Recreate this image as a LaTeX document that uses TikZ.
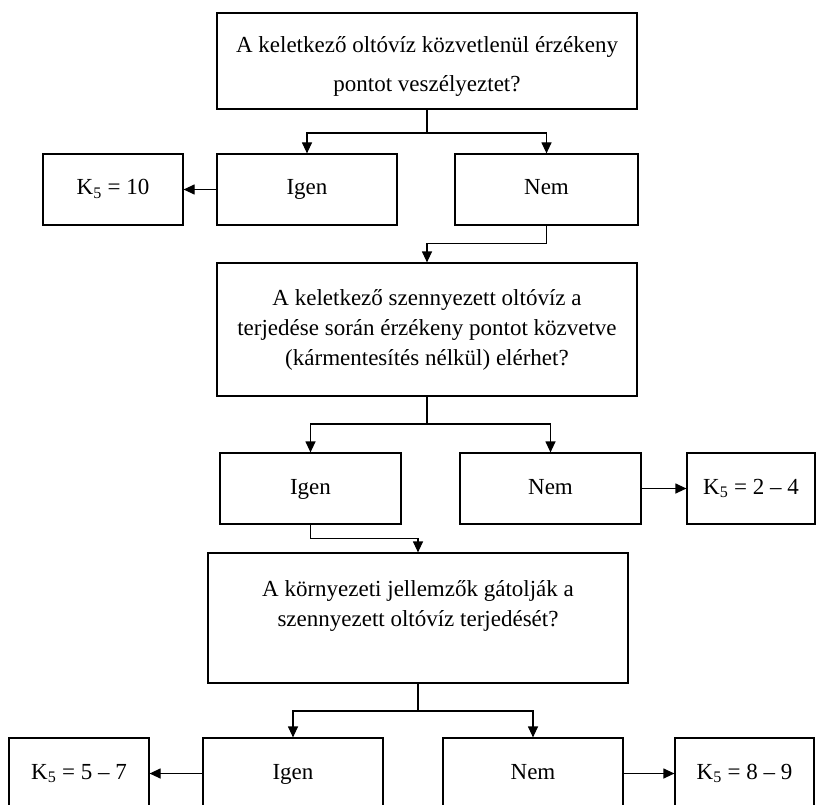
\documentclass[tikz,border=0pt]{standalone}
\usepackage{fontspec}
\setmainfont{Liberation Serif}
\usetikzlibrary{arrows.meta}
\begin{document}
\begin{tikzpicture}[x=1pt,y=-1pt,
  box/.style={draw, line width=1.2pt, rectangle, inner sep=0pt, align=center,
    font=\fontsize{23}{30}\selectfont},
  qtext/.style={inner sep=0pt, align=center, font=\fontsize{23}{39}\selectfont},
  small/.style={box, minimum width=#1, minimum height=71pt, text height=16pt, text depth=5pt},
  ln/.style={line width=1.2pt},
  arr/.style={line width=1.2pt, -{Triangle[length=11pt,width=10pt]}}]
\clip (0,0) rectangle (816,805);
\fill[white] (0,0) rectangle (816,805);

% first question
\node[box, minimum width=420pt, minimum height=96pt] (q1) at (427,61) {};
\node[qtext] (q1t) at (427,66) {A keletkező oltóvíz közvetlenül érzékeny\\pontot veszélyeztet?};
\node[small=180pt] (i1) at (307,189.5) {Igen};
\node[small=183pt] (n1) at (546.5,189.5) {Nem};
\node[small=140pt] (k1) at (113,189.5) {K\textsubscript{5} = 10};

% second question
\node[box, minimum width=420pt, minimum height=133pt] (q2) at (427,329.5)
  {A keletkező szennyezett oltóvíz a\\terjedése során érzékeny pontot közvetve\\(kármentesítés nélkül) elérhet?};
\node[small=181pt] (i2) at (310.5,488.5) {Igen};
\node[small=181pt] (n2) at (550.5,488.5) {Nem};
\node[small=128pt] (k2) at (751,488.5) {K\textsubscript{5} = 2 – 4};

% third question
\node[box, minimum width=420pt, minimum height=130pt] (q3) at (418,618)
  {A környezeti jellemzők gátolják a\\szennyezett oltóvíz terjedését?\\\mbox{}};
\node[small=180pt] (i3) at (293,773.5) {Igen};
\node[small=180pt] (n3) at (533,773.5) {Nem};
\node[small=140pt] (k3) at (79,773.5) {K\textsubscript{5} = 5 – 7};
\node[small=139pt] (k4) at (744.5,773.5) {K\textsubscript{5} = 8 – 9};

% connectors
\coordinate (b1) at (427,133);
\draw[ln] (q1.south) -- (b1);
\draw[arr] (b1) -| (i1.north);
\draw[arr] (b1) -| (n1.north);
\draw[arr] (i1.west) -- (k1.east);
\draw[arr] (n1.south) -- ++(0,18) -| (q2.north);

\coordinate (b2) at (427,424);
\draw[ln] (q2.south) -- (b2);
\draw[arr] (b2) -| (i2.north);
\draw[arr] (b2) -| (n2.north);
\draw[arr] (n2.east) -- (k2.west);
\draw[arr] (i2.south) -- ++(0,14) -| (q3.north);

\coordinate (b3) at (418,711);
\draw[line width=2.2pt] (q3.south) -- (b3);
\draw[arr] (b3) -| (i3.north);
\draw[arr] (b3) -| (n3.north);
\draw[arr] (i3.west) -- (k3.east);
\draw[arr] (n3.east) -- (k4.west);
\end{tikzpicture}
\end{document}
